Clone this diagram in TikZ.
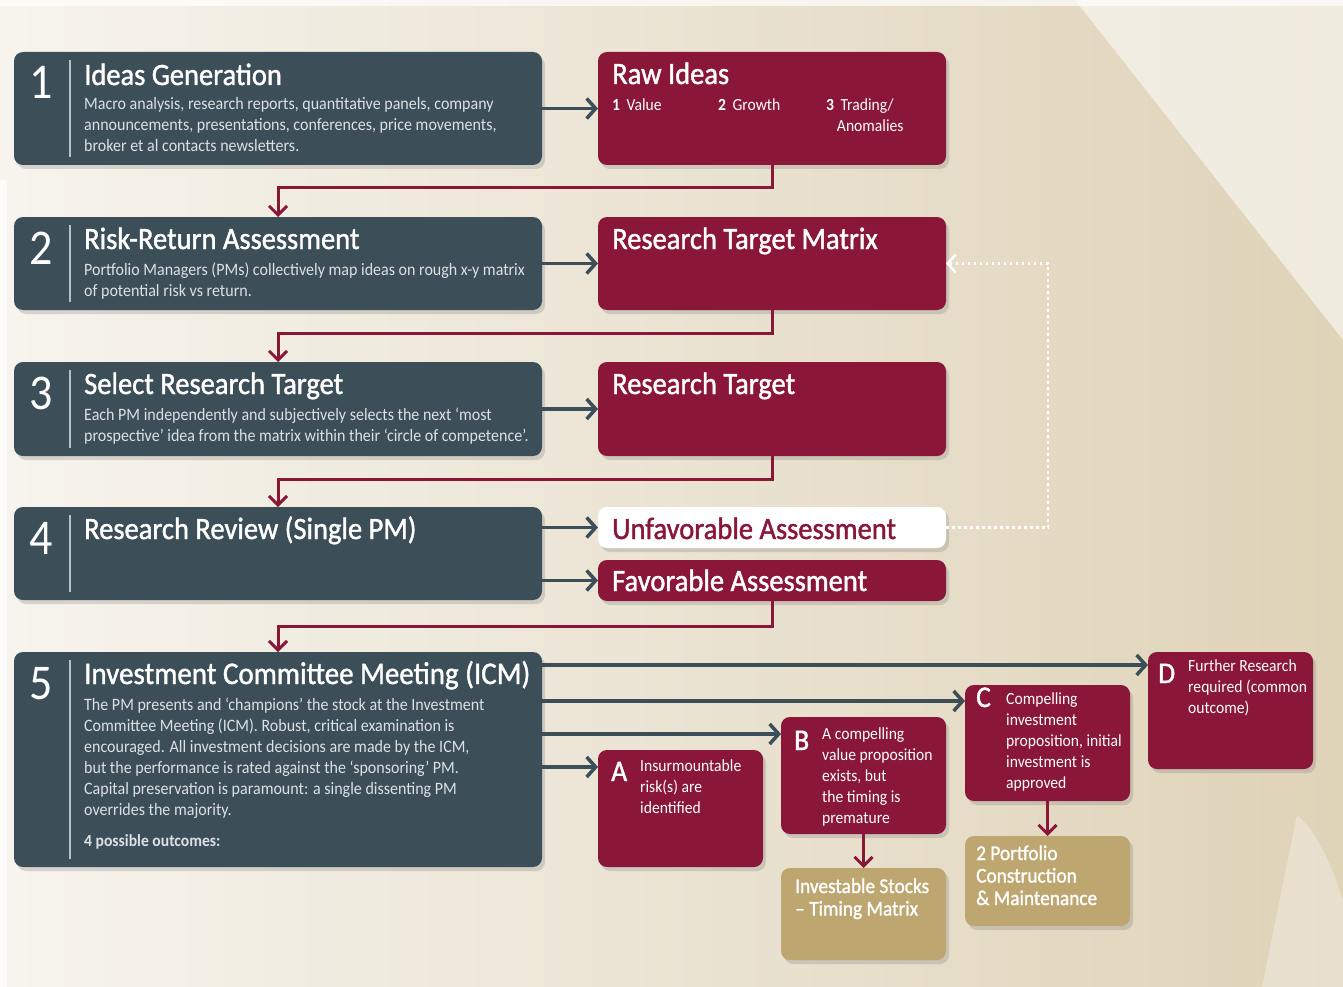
\documentclass[tikz,border=0pt]{standalone}
\usepackage{fontspec}
\setmainfont[FakeStretch=0.92]{Carlito}
\newfontfamily\semib[FakeStretch=0.92,FakeBold=1.3]{Carlito}
\usetikzlibrary{arrows.meta,shadows,calc}
\definecolor{slate}{HTML}{3C4E58}
\definecolor{wine}{HTML}{8A1638}
\definecolor{tanc}{HTML}{BDA670}
\definecolor{bgL}{HTML}{F7F4EE}
\definecolor{bgR}{HTML}{DFD3B8}
\definecolor{bodygray}{HTML}{DCE1E4}
\definecolor{sepgray}{HTML}{B8C0C5}
\tikzset{
  shbox/.style={rounded corners=9pt, anchor=north west, inner sep=0pt, outer sep=0pt,
    drop shadow={shadow xshift=3pt, shadow yshift=-4pt, opacity=0.28}},
  darkbox/.style={shbox, fill=slate},
  redbox/.style={shbox, fill=wine},
  tanbox/.style={shbox, fill=tanc},
  whitebox/.style={shbox, fill=white},
  ttl/.style={font=\semib\fontsize{31}{34}\selectfont, text=white, inner sep=0pt, anchor=base west},
  bigttl/.style={font=\semib\fontsize{31.5}{34}\selectfont, text=white, inner sep=0pt, anchor=base west},
  bodytxt/.style={font=\fontsize{17.4}{21}\selectfont, text=bodygray, inner sep=0pt, anchor=base west, align=left},
  redtxt/.style={font=\fontsize{17}{21}\selectfont, text=white, inner sep=0pt, anchor=base west, align=left},
  tantxt/.style={font=\semib\fontsize{21}{22.5}\selectfont, text=white, inner sep=0pt, anchor=base west, align=left},
  num/.style={font=\fontsize{50}{50}\selectfont, text=white, inner sep=0pt, anchor=base},
  letter/.style={font=\semib\fontsize{30}{30}\selectfont, text=white, inner sep=0pt, anchor=base west},
  sepline/.style={draw=sepgray, line width=2pt},
  grayarr/.style={draw=slate, line width=3.5pt, -{Straight Barb[length=9pt,width=20pt]}},
  redarr/.style={draw=wine, line width=3pt, -{Straight Barb[length=9pt,width=18pt]}},
  dotarr/.style={draw=white, line width=2.5pt, dash pattern=on 2.5pt off 3.5pt, -{Straight Barb[length=8pt,width=18pt]}},
}
\begin{document}
\begin{tikzpicture}[x=1pt,y=-1pt]
\useasboundingbox (0,0) rectangle (1343,987);
% background
\shade[left color=bgL, right color=bgR] (0,0) rectangle (1343,987);
\fill[white, opacity=0.55] (1075,0) -- (1343,0) -- (1343,340) -- cycle;
\fill[white, opacity=0.3] (1262,987) -- (1297,815) .. controls (1315,830) and (1330,860) .. (1343,900) -- (1343,987) -- cycle;
\fill[white, opacity=0.7] (0,180) rectangle (7,987);
\fill[white, opacity=0.7] (0,0) rectangle (1343,6);

% left column boxes
\node[darkbox, minimum width=528pt, minimum height=113pt] (b1) at (14,52) {};
\node[darkbox, minimum width=528pt, minimum height=93pt] (b2) at (14,217) {};
\node[darkbox, minimum width=528pt, minimum height=94pt] (b3) at (14,362) {};
\node[darkbox, minimum width=528pt, minimum height=93pt] (b4) at (14,507) {};
\node[darkbox, minimum width=528pt, minimum height=215pt] (b5) at (14,652) {};

% right column boxes
\node[redbox, minimum width=348pt, minimum height=113pt] (raw) at (598,52) {};
\node[redbox, minimum width=348pt, minimum height=93pt] (rtm) at (598,217) {};
\node[redbox, minimum width=348pt, minimum height=94pt] (rt) at (598,362) {};
\node[whitebox, minimum width=348pt, minimum height=41pt] (unf) at (598,507) {};
\node[redbox, minimum width=348pt, minimum height=41pt] (fav) at (598,560) {};

% outcome boxes
\node[redbox, minimum width=165pt, minimum height=117pt] (oA) at (598,750) {};
\node[redbox, minimum width=165pt, minimum height=117pt] (oB) at (781,717) {};
\node[redbox, minimum width=165pt, minimum height=116pt] (oC) at (965,685) {};
\node[redbox, minimum width=165pt, minimum height=117pt] (oD) at (1148,652) {};
\node[tanbox, minimum width=165pt, minimum height=92pt] (inv) at (781,868) {};
\node[tanbox, minimum width=165pt, minimum height=90pt] (pcm) at (965,836) {};

% separators and numbers
\foreach \b/\n in {b1/1,b2/2,b3/3,b4/4,b5/5}{
  \draw[sepline] ([xshift=56pt,yshift=-8pt]\b.north west) -- ([xshift=56pt,yshift=8pt]\b.south west);
  \node[num] (n\b) at ([xshift=27pt,yshift=-47pt]\b.north west) {\n};
}

% texts left (multi-line nodes are anchored at the baseline of their last line)
\node[ttl] (t1) at (84,85) {Ideas Generation};
\node[bodytxt] (d1) at (84,152) {Macro analysis, research reports, quantitative panels, company\\announcements, presentations, conferences, price movements,\\broker et al contacts newsletters.};
\node[ttl] (t2) at (84,249) {Risk-Return Assessment};
\node[bodytxt] (d2) at (84,296) {Portfolio Managers (PMs) collectively map ideas on rough x-y matrix\\of potential risk vs return.};
\node[ttl] (t3) at (84,394) {Select Research Target};
\node[bodytxt] (d3) at (84,441) {Each PM independently and subjectively selects the next ‘most\\prospective’ idea from the matrix within their ‘circle of competence’.};
\node[ttl] (t4) at (84,539) {Research Review (Single PM)};
\node[bigttl] (t5) at (84,684) {Investment Committee Meeting (ICM)};
\node[bodytxt] (d5) at (84,815) {The PM presents and ‘champions’ the stock at the Investment\\Committee Meeting (ICM). Robust, critical examination is\\encouraged. All investment decisions are made by the ICM,\\but the performance is rated against the ‘sponsoring’ PM.\\Capital preservation is paramount: a single dissenting PM\\overrides the majority.};
\node[bodytxt, font=\fontsize{17}{21}\selectfont\bfseries] (d5b) at (84,846) {4 possible outcomes:};

% texts right
\node[ttl] (tr1) at (612,84) {Raw Ideas};
\node[redtxt] (i1) at (612,111) {\textbf{1}\, Value};
\node[redtxt] (i2) at (718,111) {\textbf{2}\, Growth};
\node[redtxt] (i3) at (826,132) {\textbf{3}\, Trading/\\\hphantom{\textbf{3}\,}Anomalies};
\node[ttl] (tr2) at (612,249) {Research Target Matrix};
\node[ttl] (tr3) at (612,394) {Research Target};
\node[ttl, text=wine] (tr4) at (612,539) {Unfavorable Assessment};
\node[ttl] (tr5) at (612,591) {Favorable Assessment};

% outcome texts
\node[letter] (lA) at (611,781) {A};
\node[redtxt] (xA) at (640,813) {Insurmountable\\risk(s) are\\identified};
\node[letter] (lB) at (794,750) {B};
\node[redtxt] (xB) at (822,823) {A compelling\\value proposition\\exists, but\\the timing is\\premature};
\node[letter] (lC) at (976,707) {C};
\node[redtxt] (xC) at (1006,788) {Compelling\\investment\\proposition, initial\\investment is\\approved};
\node[letter] (lD) at (1158,683) {D};
\node[redtxt] (xD) at (1188,713) {Further Research\\required (common\\outcome)};
\node[tantxt] (xI) at (795,915.5) {Investable Stocks\\– Timing Matrix};
\node[tantxt] (xP) at (976,905) {2 Portfolio\\Construction\\\& Maintenance};

% gray arrows
\draw[grayarr] (b1.east |- raw.west) -- (raw.west);
\draw[grayarr] (b2.east |- rtm.west) -- (rtm.west);
\draw[grayarr] (b3.east |- rt.west) -- (rt.west);
\draw[grayarr] (b4.east |- unf.west) -- (unf.west);
\draw[grayarr] (b4.east |- fav.west) -- (fav.west);
\coordinate (inD) at ([yshift=-13pt]oD.north west);
\coordinate (inC) at ([yshift=-16pt]oC.north west);
\coordinate (inB) at ([yshift=-17pt]oB.north west);
\coordinate (inA) at ([yshift=-17pt]oA.north west);
\draw[grayarr] (b5.east |- inD) -- (inD);
\draw[grayarr] (b5.east |- inC) -- (inC);
\draw[grayarr] (b5.east |- inB) -- (inB);
\draw[grayarr] (b5.east |- inA) -- (inA);

% red connectors
\draw[redarr] (raw.south) |- ($(b2.north)+(0,-29)$) -- (b2.north);
\draw[redarr] (rtm.south) |- ($(b3.north)+(0,-29)$) -- (b3.north);
\draw[redarr] (rt.south) |- ($(b4.north)+(0,-28)$) -- (b4.north);
\draw[redarr] (fav.south) |- ($(b5.north)+(0,-26)$) -- (b5.north);
\draw[redarr] (oB.south) -- (inv.north);
\draw[redarr] (oC.south) -- (pcm.north);

% dotted feedback
\coordinate (fb) at (1048,0);
\draw[dotarr] (unf.east) -- (fb |- unf.east) -- (fb |- rtm.east) -- (rtm.east);
\end{tikzpicture}
\end{document}
